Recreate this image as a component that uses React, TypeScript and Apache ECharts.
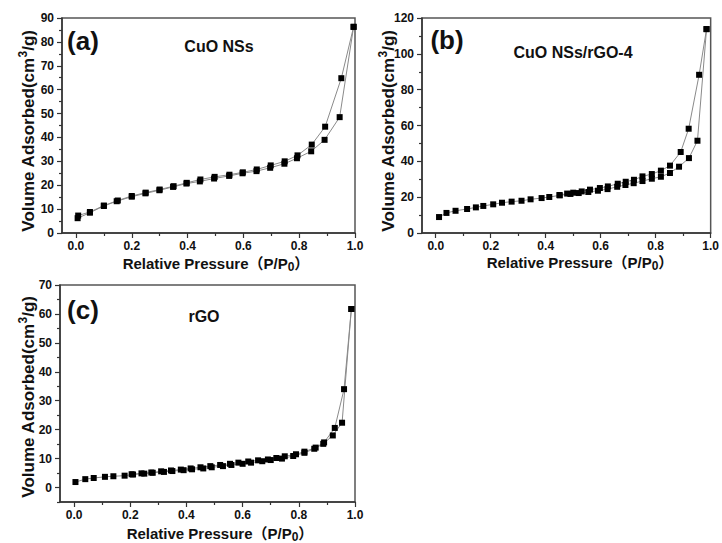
import React, { useEffect, useRef } from "react";
import * as echarts from "echarts";

// ---- Data ----
// (a) CuO NSs
const aAdsX = [0.006, 0.05, 0.1, 0.146, 0.2, 0.249, 0.299, 0.348, 0.396, 0.444, 0.495, 0.549, 0.597, 0.647, 0.696, 0.747, 0.792, 0.843, 0.891, 0.945, 0.995];
const aAdsY = [6.2, 8.5, 11.3, 13.3, 15.2, 16.6, 17.9, 19.3, 20.7, 21.6, 22.8, 23.9, 25.0, 25.9, 27.3, 29.0, 31.3, 34.2, 39.0, 48.5, 86.3];
const aDesX = [0.995, 0.951, 0.893, 0.845, 0.794, 0.748, 0.698, 0.648, 0.598, 0.55, 0.497, 0.446, 0.397, 0.35, 0.3, 0.25, 0.2, 0.15, 0.1, 0.05, 0.008];
const aDesY = [86.3, 64.8, 44.5, 37.0, 32.5, 30.0, 28.3, 26.6, 25.4, 24.4, 23.5, 22.4, 21.0, 19.6, 18.2, 16.9, 15.5, 13.6, 11.5, 8.8, 7.3];

// (b) CuO NSs/rGO-4
const bAdsX = [0.012, 0.039, 0.072, 0.114, 0.146, 0.173, 0.209, 0.241, 0.276, 0.312, 0.345, 0.385, 0.413, 0.451, 0.49, 0.52, 0.555, 0.59, 0.625, 0.66, 0.69, 0.72, 0.752, 0.786, 0.819, 0.852, 0.885, 0.921, 0.952, 0.985];
const bAdsY = [8.9, 11.2, 12.4, 13.4, 14.3, 15.1, 16.0, 16.9, 17.5, 18.0, 18.8, 19.5, 20.1, 21.0, 21.8, 22.3, 22.9, 23.6, 24.5, 25.8, 26.8, 27.8, 29.0, 30.3, 31.4, 33.5, 37.0, 41.8, 51.5, 113.8];
const bDesX = [0.985, 0.958, 0.92, 0.891, 0.852, 0.819, 0.786, 0.752, 0.721, 0.691, 0.662, 0.626, 0.597, 0.561, 0.531, 0.5, 0.478, 0.45];
const bDesY = [113.8, 88.3, 58.2, 45.2, 37.6, 34.8, 32.9, 31.6, 29.7, 28.6, 27.5, 26.0, 25.1, 24.2, 23.2, 22.5, 22.0, 21.2];

// (c) rGO
const cAdsX = [0.005, 0.04, 0.07, 0.11, 0.14, 0.18, 0.21, 0.25, 0.28, 0.32, 0.35, 0.39, 0.42, 0.46, 0.49, 0.53, 0.56, 0.6, 0.63, 0.67, 0.7, 0.74, 0.78, 0.82, 0.855, 0.887, 0.921, 0.954, 0.987];
const cAdsY = [1.9, 2.9, 3.3, 3.7, 3.9, 4.1, 4.5, 4.8, 5.1, 5.4, 5.7, 6.0, 6.3, 6.6, 7.0, 7.4, 7.8, 8.2, 8.6, 9.1, 9.5, 10.0, 10.9, 12.0, 13.4, 15.1, 18.0, 22.4, 61.7];
const cDesX = [0.987, 0.961, 0.928, 0.89, 0.86, 0.82, 0.79, 0.75, 0.72, 0.69, 0.655, 0.62, 0.585, 0.555, 0.52, 0.485, 0.45, 0.415, 0.38, 0.345, 0.31, 0.275, 0.24, 0.205];
const cDesY = [61.7, 34.0, 20.6, 15.6, 13.8, 12.4, 11.5, 10.8, 10.2, 9.7, 9.4, 9.0, 8.6, 8.2, 7.8, 7.4, 7.0, 6.6, 6.2, 5.9, 5.6, 5.2, 4.9, 4.6];

// ---- Tick values ----
const X_MAJOR = [0, 0.2, 0.4, 0.6, 0.8, 1.0];
const X_MINOR = [0.1, 0.3, 0.5, 0.7, 0.9];
const Y_A_MAJOR = [0, 10, 20, 30, 40, 50, 60, 70, 80, 90];
const Y_A_MINOR = [5, 15, 25, 35, 45, 55, 65, 75, 85];
const Y_B_MAJOR = [0, 20, 40, 60, 80, 100, 120];
const Y_B_MINOR = [10, 30, 50, 70, 90, 110];
const Y_C_MAJOR = [0, 10, 20, 30, 40, 50, 60, 70];
const Y_C_MINOR = [-5, 5, 15, 25, 35, 45, 55, 65];

const PANEL_LETTERS = ["(a)", "(b)", "(c)"];
const PANEL_TITLES = ["CuO NSs", "CuO NSs/rGO-4", "rGO"];

const FONT = '"Liberation Sans", Arial, "Noto Sans CJK SC", sans-serif';

const zip = (xs: number[], ys: number[]) => xs.map((x, i) => [x, ys[i]]);

export default function App() {
  const ref = useRef<HTMLDivElement>(null);

  useEffect(() => {
    if (!ref.current) return;
    const chart = echarts.init(ref.current, null, { renderer: "svg" });

    const panels = [
      { grid: { left: 62, top: 18, width: 293, height: 215 }, yMin: 0, yMax: 90, yMajor: Y_A_MAJOR, yMinor: Y_A_MINOR, ads: zip(aAdsX, aAdsY), des: zip(aDesX, aDesY) },
      { grid: { left: 422, top: 18, width: 293, height: 215 }, yMin: 0, yMax: 120, yMajor: Y_B_MAJOR, yMinor: Y_B_MINOR, ads: zip(bAdsX, bAdsY), des: zip(bDesX, bDesY) },
      { grid: { left: 60, top: 285, width: 295, height: 217 }, yMin: -5, yMax: 70, yMajor: Y_C_MAJOR, yMinor: Y_C_MINOR, ads: zip(cAdsX, cAdsY), des: zip(cDesX, cDesY) },
    ];

    const axisColor = "#333";
    const labelStyle = { fontSize: 12, fontWeight: "bold" as const, color: "#111", fontFamily: FONT };

    const grids: any[] = [];
    const xAxes: any[] = [];
    const yAxes: any[] = [];
    const series: any[] = [];

    panels.forEach((p, i) => {
      grids.push({ ...p.grid, show: true, borderColor: "#555", borderWidth: 1.5, backgroundColor: "transparent" });
      xAxes.push({
        type: "value", gridIndex: i, min: -0.05, max: 1.0, position: "bottom",
        axisLine: { show: true, onZero: false, lineStyle: { color: axisColor, width: 1.5 } },
        axisTick: { show: true, inside: false, length: 5, customValues: X_MAJOR, lineStyle: { color: axisColor, width: 1.2 } },
        axisLabel: { ...labelStyle, customValues: X_MAJOR, margin: 7, formatter: (v: number) => v.toFixed(1) },
        splitLine: { show: false },
      });
      xAxes.push({
        type: "value", gridIndex: i, min: -0.05, max: 1.0, position: "bottom", offset: 0,
        axisLine: { show: false, onZero: false },
        axisTick: { show: true, inside: false, length: 3, customValues: X_MINOR, lineStyle: { color: axisColor, width: 1.2 } },
        axisLabel: { show: false },
        splitLine: { show: false },
      });
      yAxes.push({
        type: "value", gridIndex: i, min: p.yMin, max: p.yMax, position: "left",
        axisLine: { show: true, onZero: false, lineStyle: { color: axisColor, width: 1.5 } },
        axisTick: { show: true, inside: false, length: 5, customValues: p.yMajor, lineStyle: { color: axisColor, width: 1.2 } },
        axisLabel: { ...labelStyle, customValues: p.yMajor, margin: 8 },
        splitLine: { show: false },
      });
      yAxes.push({
        type: "value", gridIndex: i, min: p.yMin, max: p.yMax, position: "left", offset: 0,
        axisLine: { show: false, onZero: false },
        axisTick: { show: true, inside: false, length: 3, customValues: p.yMinor, lineStyle: { color: axisColor, width: 1.2 } },
        axisLabel: { show: false },
        splitLine: { show: false },
      });
      const common = {
        type: "line", xAxisIndex: 2 * i, yAxisIndex: 2 * i,
        symbol: "rect", symbolSize: 6, showSymbol: true,
        itemStyle: { color: "#000" },
        lineStyle: { color: "#8a8a8a", width: 1 },
        z: 3,
      };
      series.push({ ...common, name: `ads${i}`, data: p.ads });
      series.push({ ...common, name: `des${i}`, data: p.des });
    });

    const yRich = {
      n: { fontSize: 17, fontWeight: "bold", fontFamily: FONT, color: "#111", lineHeight: 22 },
      s: { fontSize: 12, fontWeight: "bold", fontFamily: FONT, color: "#111", lineHeight: 12, verticalAlign: "top" },
    };
    const xRich = {
      n: { fontSize: 15, fontWeight: "bold", fontFamily: FONT, color: "#111", lineHeight: 20 },
      b: { fontSize: 12, fontWeight: "bold", fontFamily: FONT, color: "#111", lineHeight: 12, verticalAlign: "bottom" },
    };

    const yName = "{n|Volume Adsorbed(cm}{s|3}{n|/g)}";
    const xName = "{n|Relative Pressure（P/P}{b|0}{n|）}";

    const textEl = (x: number, y: number, text: string, extra: any = {}, rotation = 0) => ({
      type: "text", x, y, rotation, z: 10,
      style: {
        text, align: "center", verticalAlign: "middle", textAlign: "center", textVerticalAlign: "middle",
        fill: "#111", fontFamily: FONT, ...extra,
      },
    });

    const yNamePos = [[28, 131], [388, 131], [28, 397]];
    const xNamePos = [[216, 263], [580, 262], [220, 533]];
    const letterPos = [[83, 41], [447, 40], [83, 310]];
    const titlePos = [[219, 46], [573, 52], [204, 316]];

    const graphics: any[] = [];
    for (let i = 0; i < 3; i++) {
      graphics.push(textEl(yNamePos[i][0], yNamePos[i][1], yName, { rich: yRich }, Math.PI / 2));
      graphics.push(textEl(xNamePos[i][0], xNamePos[i][1], xName, { rich: xRich }));
      graphics.push(textEl(letterPos[i][0], letterPos[i][1], PANEL_LETTERS[i], { fontSize: 26, fontWeight: "bold" }));
      graphics.push(textEl(titlePos[i][0], titlePos[i][1], PANEL_TITLES[i], { fontSize: 16, fontWeight: "bold" }));
    }

    chart.setOption({
      animation: false,
      backgroundColor: "#fff",
      grid: grids,
      xAxis: xAxes,
      yAxis: yAxes,
      series,
      graphic: graphics,
    });

    return () => chart.dispose();
  }, []);

  return (
    <div
      ref={ref}
      style={{ position: "absolute", left: 0, top: 0, width: 722, height: 543 }}
    />
  );
}
